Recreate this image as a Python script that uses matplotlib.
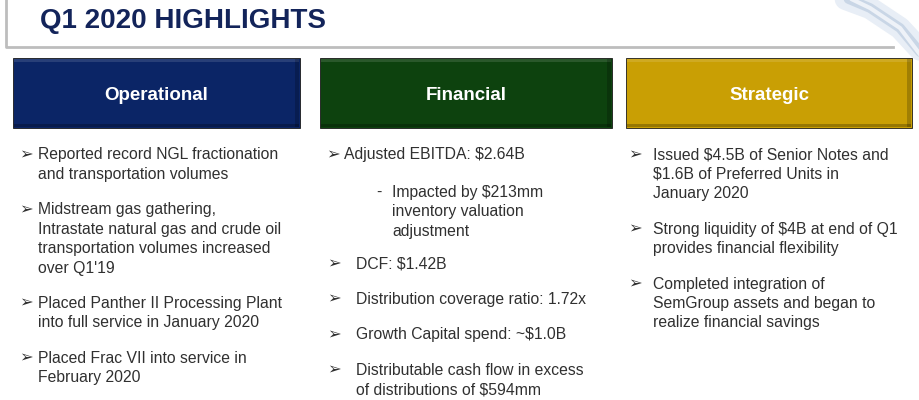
import matplotlib
matplotlib.use("Agg")
import matplotlib.pyplot as plt
from matplotlib.patches import Rectangle

plt.rcParams['font.family'] = ['Liberation Sans', 'DejaVu Sans']

# ---------- CONTENT ----------
title = "Q1 2020 HIGHLIGHTS"
headers = ["Operational", "Financial", "Strategic"]
header_colors = ["#0b2566", "#0d420e", "#c99f04"]

operational = [
    ["Reported record NGL fractionation", "and transportation volumes"],
    ["Midstream gas gathering,", "Intrastate natural gas and crude oil",
     "transportation volumes increased", "over Q1'19"],
    ["Placed Panther II Processing Plant", "into full service in January 2020"],
    ["Placed Frac VII into service in", "February 2020"],
]
financial_top = ["Adjusted EBITDA: $2.64B"]
financial_sub = ["Impacted by $213mm", "inventory valuation", "adjustment"]
financial = [
    ["DCF: $1.42B"],
    ["Distribution coverage ratio: 1.72x"],
    ["Growth Capital spend: ~$1.0B"],
    ["Distributable cash flow in excess", "of distributions of $594mm"],
]
strategic = [
    ["Issued $4.5B of Senior Notes and", "$1.6B of Preferred Units in", "January 2020"],
    ["Strong liquidity of $4B at end of Q1", "provides financial flexibility"],
    ["Completed integration of", "SemGroup assets and began to",
     "realize financial savings"],
]

# ---------- LAYOUT ----------
W, H = 919, 400
fig = plt.figure(figsize=(W / 100, H / 100), dpi=100)
ax = fig.add_axes([0, 0, 1, 1])
ax.set_xlim(0, W)
ax.set_ylim(H, 0)
ax.axis("off")

text_color = "#303030"
fs = 11.3
lh = 19.4   # line height in px
gap = 16    # extra gap between bullets
arrow = "\u27a2"

# top-right swoosh decoration
for i, (c, lw) in enumerate([("#e8eef6", 16), ("#c9d6e6", 7), ("#eef2f8", 3)]):
    ax.plot([835 + i * 4, 870, 900, 925], [-5, 8, 28, 55 + i * 3],
            color=c, lw=lw, solid_capstyle="round", zorder=1)

# title frame
ax.plot([6, 6, 893], [0, 47, 47], color="#bdbdbd", lw=2, zorder=2)
ax.text(40, 28, title, fontsize=20, fontweight="bold", color="#13245a",
        va="baseline", ha="left")

# header boxes
boxes = [(13, 300), (320, 612), (626, 912)]
for (x0, x1), label, col in zip(boxes, headers, header_colors):
    ax.add_patch(Rectangle((x0, 58), x1 - x0, 70, facecolor=col,
                           edgecolor="#1a1a1a", lw=0.6, zorder=3))
    # bevel highlights
    ax.add_patch(Rectangle((x0 + 1, 59), x1 - x0 - 2, 3, facecolor="white",
                           alpha=0.12, lw=0, zorder=4))
    ax.add_patch(Rectangle((x0 + 1, 124), x1 - x0 - 2, 3, facecolor="black",
                           alpha=0.25, lw=0, zorder=4))
    ax.add_patch(Rectangle((x1 - 5, 59), 4, 68, facecolor="black",
                           alpha=0.2, lw=0, zorder=4))
    ax.text((x0 + x1) / 2, 100, label, fontsize=13.5, fontweight="bold",
            color="white", ha="center", va="baseline", zorder=5)


def draw_bullets(items, bx, tx, y):
    for lines in items:
        ax.text(bx, y, arrow, fontsize=fs + 0.5, color=text_color,
                ha="left", va="center")
        for k, line in enumerate(lines):
            ax.text(tx, y + k * lh, line, fontsize=fs, color=text_color,
                    ha="left", va="center")
        y += len(lines) * lh + gap
    return y


draw_bullets(operational, 19, 38, 155)
draw_bullets(strategic, 628, 653, 155)

# financial column
y = draw_bullets([financial_top], 326, 344, 155)
ax.text(376, y - gap + 18, "-", fontsize=fs, color=text_color, ha="left", va="center")
for k, line in enumerate(financial_sub):
    ax.text(392, y - gap + 18 + k * lh, line, fontsize=fs, color=text_color,
            ha="left", va="center")
draw_bullets(financial, 327, 356, 264)

fig.savefig("out.png", dpi=100)
